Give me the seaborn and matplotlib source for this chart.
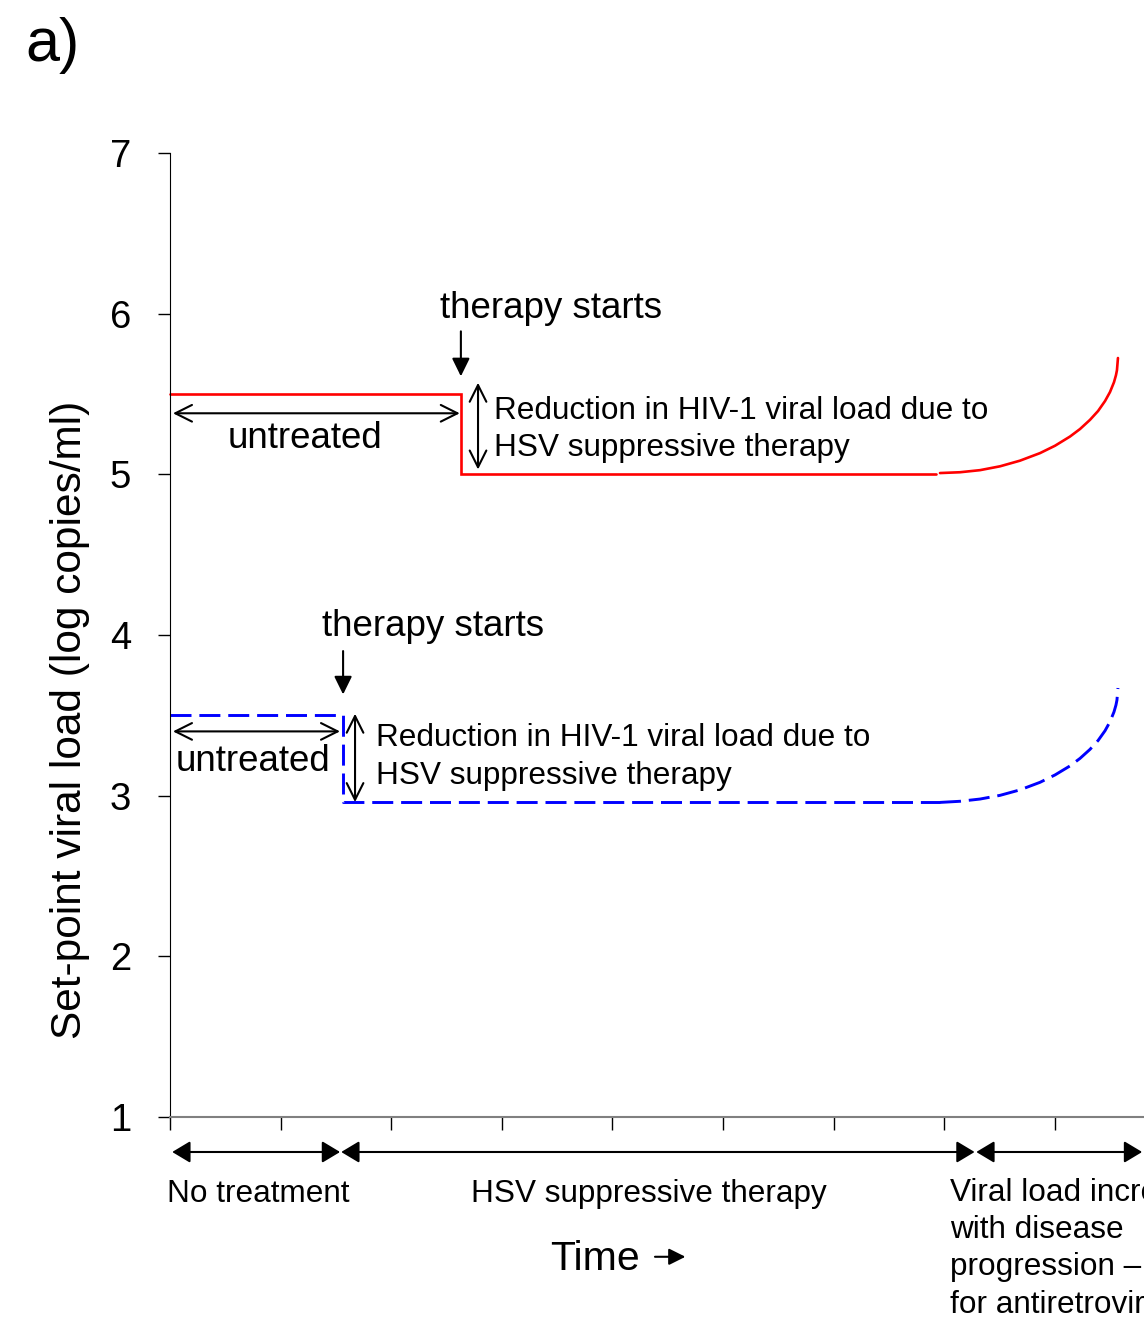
import matplotlib
matplotlib.use("Agg")
import matplotlib.pyplot as plt
import seaborn as sns
import pandas as pd

# Set-point viral load trajectories (log copies/ml) over time (arbitrary units)
high_step_x = [0.0, 2.63, 2.63, 6.93]
high_step_y = [5.5, 5.5, 5.0, 5.0]
rise_x = [6.962, 7.143, 7.324, 7.505, 7.685, 7.866, 8.002, 8.137, 8.228,
          8.318, 8.391, 8.454, 8.499, 8.535, 8.553, 8.562, 8.571]
high_rise_y = [5.008, 5.013, 5.026, 5.050, 5.085, 5.132, 5.178, 5.235, 5.282,
               5.339, 5.394, 5.456, 5.512, 5.573, 5.617, 5.648, 5.724]

low_step_x = [0.0, 1.565, 1.565, 6.96]
low_step_y = [3.5, 3.5, 2.958, 2.958]
low_rise_y = [2.958, 2.965, 2.979, 3.002, 3.036, 3.083, 3.129, 3.185, 3.232,
              3.288, 3.343, 3.404, 3.460, 3.521, 3.564, 3.595, 3.670]

y_ticks = [1, 2, 3, 4, 5, 6, 7]
x_ticks = list(range(0, 11))

# Phase bands along the time axis (start, end) and their labels
phase_bounds = [(0.02, 1.538), (1.548, 7.275), (7.29, 8.79)]
phase_labels = ["No treatment", "HSV suppressive therapy"]
progression_label = ("Viral load increases\nwith disease\n"
                     "progression \u2013 need\nfor antiretroviral therapy")

sns.set_theme(style="white")
plt.rcParams["font.family"] = ["Liberation Sans", "DejaVu Sans"]
plt.rcParams["text.color"] = "black"
plt.rcParams["axes.labelcolor"] = "black"
plt.rcParams["xtick.color"] = "black"
plt.rcParams["ytick.color"] = "black"

W, H = 1144, 1325
fig = plt.figure(figsize=(W / 100, H / 100), dpi=100)
ax = fig.add_axes([170 / W, 1 - 1117 / H, 1106 / W, 964 / H])

RED = "#ff0000"
BLUE = "#0000ff"

def seg(x, y, color, lw, dashes=None):
    df = pd.DataFrame({"t": x, "v": y})
    line_ax = sns.lineplot(data=df, x="t", y="v", sort=False, estimator=None,
                           color=color, linewidth=lw, ax=ax)
    ln = line_ax.get_lines()[-1]
    ln.set_solid_joinstyle("miter")
    if dashes:
        ln.set_dashes(dashes)
    ln.set_clip_on(False)

seg(high_step_x, high_step_y, RED, 1.9)
seg(rise_x, high_rise_y, RED, 1.9)
seg(low_step_x, low_step_y, BLUE, 2.1, (7.2, 2.7))
seg(rise_x, low_rise_y, BLUE, 2.1, (7.2, 2.7))

ax.set_xlim(0, 10)
ax.set_ylim(1, 7)
ax.set_yticks(y_ticks)
ax.set_yticklabels([str(v) for v in y_ticks], fontsize=27.5)
ax.set_xticks(x_ticks)
ax.set_xticklabels([])
ax.tick_params(axis="y", left=True, direction="out", length=9, width=1,
               color="black", pad=19)
ax.tick_params(axis="x", bottom=True, direction="out", length=9, width=1,
               color="black")
ax.spines["top"].set_visible(False)
ax.spines["right"].set_visible(False)
ax.spines["left"].set_color("black")
ax.spines["left"].set_linewidth(0.8)
ax.spines["bottom"].set_color("#808080")
ax.spines["bottom"].set_linewidth(1.5)
ax.set_xlabel("")
ax.set_ylabel("Set-point viral load (log copies/ml)", fontsize=30.5)
ax.yaxis.label.set_va("center")
ax.yaxis.set_label_coords(-0.0904, 0.412)

FS = 22.7
LS = 1.32
open2 = dict(arrowstyle="<->,head_length=0.6,head_width=0.3", color="black",
             lw=1.5, shrinkA=0, shrinkB=0, mutation_scale=20)
down = dict(arrowstyle="-|>,head_length=0.55,head_width=0.27", color="black",
            lw=1.5, shrinkA=0, shrinkB=0, mutation_scale=20)
filled2 = dict(arrowstyle="<|-|>,head_length=0.55,head_width=0.33", color="black",
               lw=1.5, shrinkA=0, shrinkB=0, mutation_scale=20)

# Upper trajectory annotations
ax.text(3.445, 6.03, "therapy starts", fontsize=26.5, ha="center", va="center")
ax.annotate("", xy=(2.63, 5.61), xytext=(2.63, 5.89), arrowprops=down)
ax.annotate("", xy=(0.027, 5.38), xytext=(2.62, 5.38), arrowprops=open2)
ax.text(1.22, 5.22, "untreated", fontsize=26.5, ha="center", va="center")
ax.annotate("", xy=(2.785, 5.57), xytext=(2.785, 5.03), arrowprops=open2)
ax.text(2.93, 5.28, "Reduction in HIV-1 viral load due to\nHSV suppressive therapy",
        fontsize=FS, ha="left", va="center", linespacing=LS)

# Lower trajectory annotations
ax.text(2.38, 4.05, "therapy starts", fontsize=26.5, ha="center", va="center")
ax.annotate("", xy=(1.565, 3.63), xytext=(1.565, 3.90), arrowprops=down)
ax.annotate("", xy=(0.027, 3.40), xytext=(1.537, 3.40), arrowprops=open2)
ax.text(0.75, 3.21, "untreated", fontsize=26.5, ha="center", va="center")
ax.annotate("", xy=(1.673, 3.51), xytext=(1.673, 2.96), arrowprops=open2)
ax.text(1.863, 3.24, "Reduction in HIV-1 viral load due to\nHSV suppressive therapy",
        fontsize=FS, ha="left", va="center", linespacing=LS)

# Time-axis phases
xt = ax.get_xaxis_transform()
for a, b in phase_bounds:
    ax.annotate("", xy=(a, -0.0363), xytext=(b, -0.0363), xycoords=xt,
                textcoords=xt, arrowprops=filled2, annotation_clip=False)
ax.text(0.80, -0.0800, phase_labels[0], transform=xt, fontsize=FS,
        ha="center", va="center")
ax.text(4.33, -0.0800, phase_labels[1], transform=xt, fontsize=FS,
        ha="center", va="center")
ax.text(7.05, -0.0630, progression_label, transform=xt, fontsize=FS,
        ha="left", va="top", linespacing=LS)
ax.text(3.84, -0.147, "Time", transform=xt, fontsize=29.5, ha="center", va="center")
ax.annotate("", xy=(4.66, -0.145), xytext=(4.385, -0.145), xycoords=xt,
            textcoords=xt, annotation_clip=False,
            arrowprops=dict(arrowstyle="-|>,head_length=0.5,head_width=0.25",
                            color="black", lw=1.5, shrinkA=0, shrinkB=0,
                            mutation_scale=20))

fig.text(25 / W, 1 - 45 / H, "a)", fontsize=44, ha="left", va="center")

fig.savefig("out.png", dpi=100)
